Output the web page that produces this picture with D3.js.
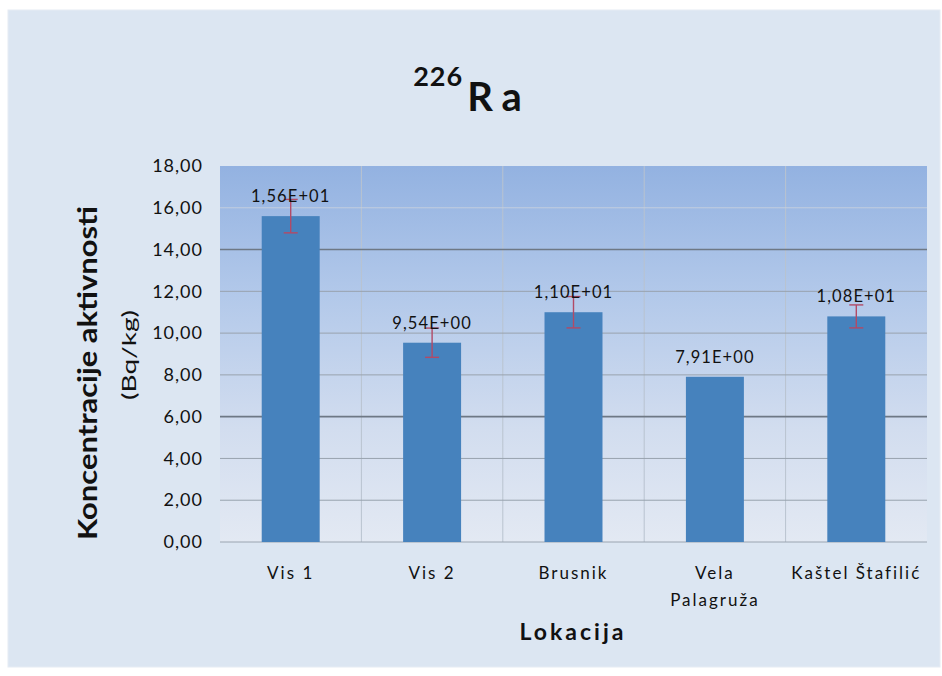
<!DOCTYPE html>
<html>
<head>
<meta charset="utf-8">
<script src="https://cdn.jsdelivr.net/npm/d3@7"></script>
<style>
html,body{margin:0;padding:0;background:#fff;}
svg{display:block;}
text{font-family:Lato,"Liberation Sans",sans-serif;fill:#111;}
</style>
</head>
<body>
<svg id="chart" width="942" height="676"></svg>
<script>
const categories = ["Vis 1", "Vis 2", "Brusnik", "Vela Palagruža", "Kaštel Štafilić"];
const categoryLines = [["Vis 1"], ["Vis 2"], ["Brusnik"], ["Vela", "Palagruža"], ["Kaštel Štafilić"]];
const values = [15.6, 9.54, 11.0, 7.91, 10.8];
const errors = [0.8, 0.7, 0.75, 0, 0.55];
const valueLabels = ["1,56E+01", "9,54E+00", "1,10E+01", "7,91E+00", "1,08E+01"];
const yTicks = [0, 2, 4, 6, 8, 10, 12, 14, 16, 18];
const yTickLabels = ["0,00", "2,00", "4,00", "6,00", "8,00", "10,00", "12,00", "14,00", "16,00", "18,00"];
const darkGrid = [14, 6];

const svg = d3.select("#chart");
const pLeft = 220, pRight = 927, pTop = 166, pBottom = 542;

const defs = svg.append("defs");
const g1 = defs.append("linearGradient").attr("id", "plotGrad").attr("x1", 0).attr("y1", 0).attr("x2", 0).attr("y2", 1);
g1.append("stop").attr("offset", "0%").attr("stop-color", "#93b2e1");
g1.append("stop").attr("offset", "35%").attr("stop-color", "#b3c9ea");
g1.append("stop").attr("offset", "70%").attr("stop-color", "#d2ddef");
g1.append("stop").attr("offset", "100%").attr("stop-color", "#e3e9f3");

// chart area
svg.append("rect").attr("x", 8).attr("y", 10).attr("width", 932).attr("height", 657)
  .attr("fill", "#dce6f2").attr("stroke", "#e6ecf4").attr("stroke-width", 1);

const x = d3.scaleBand().domain(categories).range([pLeft, pRight]).paddingInner(0.59).paddingOuter(0.295);
const y = d3.scaleLinear().domain([0, 18]).range([pBottom, pTop]);

// plot background
svg.append("rect").attr("x", pLeft).attr("y", pTop).attr("width", pRight - pLeft).attr("height", pBottom - pTop)
  .attr("fill", "url(#plotGrad)");

// vertical grid at category boundaries
const step = x.step();
const bounds = d3.range(1, categories.length).map(i => x(categories[i]) - step * x.paddingInner() / 2);
svg.append("g").selectAll("line").data(bounds).join("line")
  .attr("x1", d => d).attr("x2", d => d).attr("y1", pTop).attr("y2", pBottom)
  .attr("stroke", "#b9c3cf").attr("stroke-width", 1);

// horizontal grid
svg.append("g").selectAll("line").data(yTicks.filter(t => t > 0 && t < 18)).join("line")
  .attr("x1", pLeft).attr("x2", pRight).attr("y1", d => y(d)).attr("y2", d => y(d))
  .attr("stroke", d => darkGrid.includes(d) ? "#6e7885" : (d === 16 ? "#c2cede" : "#98a2ae"))
  .attr("stroke-width", d => darkGrid.includes(d) ? 1.6 : 1);

// baseline
svg.append("line").attr("x1", pLeft).attr("x2", pRight).attr("y1", y(0)).attr("y2", y(0))
  .attr("stroke", "#9aa4b0").attr("stroke-width", 1);

// y axis tick labels
const yAxis = d3.axisLeft(y).tickValues(yTicks).tickSize(0).tickPadding(17)
  .tickFormat((d, i) => yTickLabels[i]);
const ya = svg.append("g").attr("transform", `translate(${pLeft},0)`).call(yAxis);
ya.select(".domain").remove();
ya.selectAll("text").style("font-family", "Lato, 'Liberation Sans', sans-serif")
  .style("font-size", "18px").style("letter-spacing", "1px").attr("fill", "#222");

// bars
svg.append("g").selectAll("rect").data(values).join("rect")
  .attr("x", (d, i) => x(categories[i])).attr("width", x.bandwidth())
  .attr("y", d => y(d)).attr("height", d => y(0) - y(d))
  .attr("fill", "#4682bd");

// error bars
const eg = svg.append("g").attr("stroke", "#b24a66").attr("stroke-width", 1.4);
values.forEach((v, i) => {
  if (!errors[i]) return;
  const cx = x(categories[i]) + x.bandwidth() / 2;
  eg.append("line").attr("x1", cx).attr("x2", cx).attr("y1", y(v + errors[i])).attr("y2", y(v - errors[i]));
  eg.append("line").attr("x1", cx - 7).attr("x2", cx + 7).attr("y1", y(v + errors[i])).attr("y2", y(v + errors[i]));
  eg.append("line").attr("x1", cx - 7).attr("x2", cx + 7).attr("y1", y(v - errors[i])).attr("y2", y(v - errors[i]));
});

// value labels
svg.append("g").selectAll("text").data(values).join("text")
  .attr("x", (d, i) => x(categories[i]) + x.bandwidth() / 2)
  .attr("y", d => y(d) - 14)
  .attr("text-anchor", "middle")
  .style("font-size", "16.5px").style("letter-spacing", "1.1px")
  .text((d, i) => valueLabels[i]);

// x category labels
const xl = svg.append("g");
categoryLines.forEach((lines, i) => {
  const cx = x(categories[i]) + x.bandwidth() / 2;
  const t = xl.append("text").attr("x", cx).attr("y", 579).attr("text-anchor", "middle")
    .style("font-size", "17px").style("letter-spacing", "2px");
  lines.forEach((ln, j) => {
    t.append("tspan").attr("x", cx).attr("dy", j === 0 ? 0 : 27).text(ln);
  });
});

// x axis title
svg.append("text").attr("x", 573).attr("y", 640).attr("text-anchor", "middle")
  .style("font-size", "23px").style("font-weight", "bold").style("letter-spacing", "3px")
  .text("Lokacija");

// y axis title
svg.append("text").attr("transform", "translate(97,373) rotate(-90)").attr("text-anchor", "middle")
  .style("font-size", "26px").style("font-weight", "bold")
  .attr("textLength", 334).attr("lengthAdjust", "spacingAndGlyphs")
  .text("Koncentracije aktivnosti");
svg.append("text").attr("transform", "translate(136,355) rotate(-90)").attr("text-anchor", "middle")
  .style("font-size", "20px")
  .attr("textLength", 90).attr("lengthAdjust", "spacingAndGlyphs")
  .text("(Bq/kg)");

// title
const title = svg.append("text").attr("x", 472).attr("y", 111).attr("text-anchor", "middle")
  .style("font-weight", "bold");
title.append("tspan").attr("dy", -25).style("font-size", "27px").style("letter-spacing", "1px").text("226");
title.append("tspan").attr("dy", 25).attr("dx", 4).style("font-size", "40px").style("letter-spacing", "9px").text("Ra");
</script>
</body>
</html>
